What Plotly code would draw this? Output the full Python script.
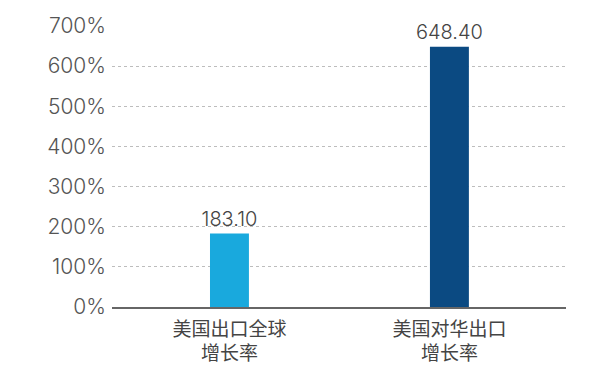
import plotly.graph_objects as go

categories = ["美国出口全球<br>增长率", "美国对华出口<br>增长率"]
values = [183.10, 648.40]
labels = ["183.10", "648.40"]
colors = ["#19a9dd", "#0b4a82"]
y_ticks = [0, 100, 200, 300, 400, 500, 600, 700]
y_tick_text = ["0%", "100%", "200%", "300%", "400%", "500%", "600%", "700%"]

FONT = "Inter, 'Noto Sans CJK SC', sans-serif"

fig = go.Figure(go.Bar(
    x=categories, y=values, marker=dict(color=colors, line=dict(width=0)),
    width=0.177, text=labels, textposition="outside", cliponaxis=False,
    constraintext="none",
    textfont=dict(size=20, color="#444444", family=FONT, weight=300),
))
fig.update_layout(
    width=600, height=371, margin=dict(l=112, r=34, t=26, b=64),
    plot_bgcolor="white", paper_bgcolor="white", showlegend=False,
    font=dict(family=FONT, color="#555555"),
)
fig.update_yaxes(range=[0, 700], tickvals=y_ticks, ticktext=y_tick_text,
                 automargin=False,
                 showgrid=True, gridcolor="#bdbdbd", griddash="dot", gridwidth=1,
                 zeroline=False, showline=False, ticks="", ticklen=0,
                 ticklabelstandoff=5,
                 tickfont=dict(size=21, color="#555555", family=FONT, weight=300))
fig.update_xaxes(range=[-0.534, 1.53], automargin=False,
                 showline=True, linecolor="#666666", linewidth=1.5, ticks="",
                 ticklabelstandoff=4,
                 tickfont=dict(size=19, color="#444444", family="'Noto Sans CJK SC', sans-serif"))
fig.write_html("out.html")
